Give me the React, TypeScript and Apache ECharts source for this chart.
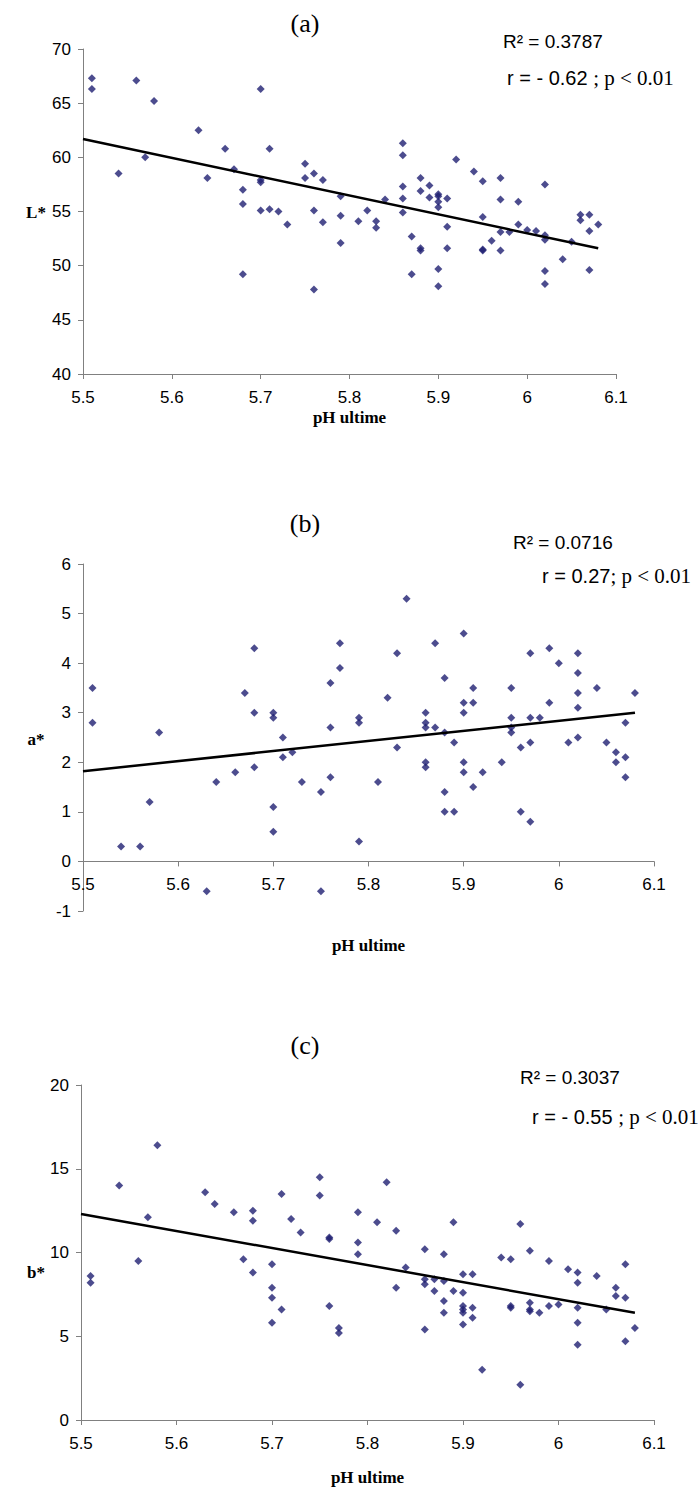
import React, { useEffect, useRef } from "react";
import * as echarts from "echarts";

// Panel (a): L* vs pH ultime
const phA = [5.51, 5.51, 5.54, 5.56, 5.57, 5.58, 5.63, 5.64, 5.66, 5.67, 5.68, 5.68, 5.68, 5.7, 5.7, 5.7, 5.7, 5.71, 5.71, 5.72, 5.73, 5.75, 5.75, 5.76, 5.76, 5.76, 5.77, 5.77, 5.79, 5.79, 5.79, 5.81, 5.82, 5.83, 5.83, 5.84, 5.86, 5.86, 5.86, 5.86, 5.86, 5.87, 5.87, 5.88, 5.88, 5.88, 5.88, 5.89, 5.89, 5.9, 5.9, 5.9, 5.9, 5.9, 5.9, 5.91, 5.91, 5.91, 5.92, 5.94, 5.95, 5.95, 5.95, 5.95, 5.96, 5.97, 5.97, 5.97, 5.97, 5.98, 5.99, 5.99, 6.0, 6.01, 6.02, 6.02, 6.02, 6.02, 6.02, 6.04, 6.05, 6.06, 6.06, 6.07, 6.07, 6.07, 6.08];
const lStar = [67.3, 66.3, 58.5, 67.1, 60.0, 65.2, 62.5, 58.1, 60.8, 58.9, 57.0, 55.7, 49.2, 66.3, 57.9, 57.7, 55.1, 60.8, 55.2, 55.0, 53.8, 59.4, 58.1, 58.5, 55.1, 47.8, 57.9, 54.0, 56.4, 54.6, 52.1, 54.1, 55.1, 54.1, 53.5, 56.1, 61.3, 60.2, 57.3, 56.2, 54.9, 52.7, 49.2, 58.1, 56.9, 51.6, 51.4, 57.4, 56.3, 56.6, 56.4, 55.9, 55.4, 49.7, 48.1, 56.2, 53.6, 51.6, 59.8, 58.7, 57.8, 54.5, 51.5, 51.4, 52.3, 58.1, 56.1, 53.1, 51.4, 53.1, 55.9, 53.8, 53.3, 53.2, 57.5, 52.8, 52.4, 49.5, 48.3, 50.6, 52.2, 54.7, 54.2, 54.7, 53.2, 49.6, 53.8];
const trendA = [[5.5, 61.7], [6.08, 51.6]];

// Panel (b): a* vs pH ultime
const phB = [5.51, 5.51, 5.54, 5.56, 5.57, 5.58, 5.63, 5.64, 5.66, 5.67, 5.68, 5.68, 5.68, 5.7, 5.7, 5.7, 5.7, 5.71, 5.71, 5.72, 5.73, 5.75, 5.75, 5.76, 5.76, 5.76, 5.77, 5.77, 5.79, 5.79, 5.79, 5.81, 5.82, 5.83, 5.83, 5.84, 5.86, 5.86, 5.86, 5.86, 5.86, 5.87, 5.87, 5.88, 5.88, 5.88, 5.88, 5.89, 5.89, 5.9, 5.9, 5.9, 5.9, 5.9, 5.91, 5.91, 5.91, 5.92, 5.94, 5.95, 5.95, 5.95, 5.95, 5.96, 5.96, 5.97, 5.97, 5.97, 5.97, 5.98, 5.99, 5.99, 6.0, 6.01, 6.02, 6.02, 6.02, 6.02, 6.02, 6.04, 6.05, 6.06, 6.06, 6.07, 6.07, 6.07, 6.08];
const aStar = [3.5, 2.8, 0.3, 0.3, 1.2, 2.6, -0.6, 1.6, 1.8, 3.4, 4.3, 3.0, 1.9, 3.0, 2.9, 1.1, 0.6, 2.5, 2.1, 2.2, 1.6, 1.4, -0.6, 3.6, 2.7, 1.7, 4.4, 3.9, 2.9, 2.8, 0.4, 1.6, 3.3, 4.2, 2.3, 5.3, 3.0, 2.8, 2.7, 2.0, 1.9, 4.4, 2.7, 3.7, 2.6, 1.4, 1.0, 2.4, 1.0, 4.6, 3.2, 3.0, 2.0, 1.8, 3.5, 3.2, 1.5, 1.8, 2.0, 3.5, 2.9, 2.7, 2.6, 2.3, 1.0, 4.2, 2.9, 2.4, 0.8, 2.9, 4.3, 3.2, 4.0, 2.4, 4.2, 3.8, 3.4, 3.1, 2.5, 3.5, 2.4, 2.2, 2.0, 2.8, 2.1, 1.7, 3.4];
const trendB = [[5.5, 1.82], [6.08, 3.0]];

// Panel (c): b* vs pH ultime
const phC = [5.51, 5.51, 5.54, 5.56, 5.57, 5.58, 5.63, 5.64, 5.66, 5.67, 5.68, 5.68, 5.68, 5.7, 5.7, 5.7, 5.7, 5.71, 5.71, 5.72, 5.73, 5.75, 5.75, 5.76, 5.76, 5.76, 5.77, 5.77, 5.79, 5.79, 5.79, 5.81, 5.82, 5.83, 5.83, 5.84, 5.86, 5.86, 5.86, 5.86, 5.87, 5.87, 5.88, 5.88, 5.88, 5.88, 5.89, 5.89, 5.9, 5.9, 5.9, 5.9, 5.9, 5.9, 5.91, 5.91, 5.91, 5.92, 5.94, 5.95, 5.95, 5.95, 5.96, 5.96, 5.97, 5.97, 5.97, 5.97, 5.98, 5.99, 5.99, 6.0, 6.01, 6.02, 6.02, 6.02, 6.02, 6.02, 6.04, 6.05, 6.06, 6.06, 6.07, 6.07, 6.07, 6.08];
const bStar = [8.6, 8.2, 14.0, 9.5, 12.1, 16.4, 13.6, 12.9, 12.4, 9.6, 12.5, 11.9, 8.8, 9.3, 7.9, 7.3, 5.8, 13.5, 6.6, 12.0, 11.2, 14.5, 13.4, 10.9, 10.8, 6.8, 5.5, 5.2, 12.4, 10.6, 9.9, 11.8, 14.2, 11.3, 7.9, 9.1, 10.2, 8.4, 8.1, 5.4, 8.4, 7.7, 9.9, 8.3, 7.1, 6.4, 11.8, 7.7, 8.7, 7.6, 6.8, 6.6, 6.4, 5.7, 8.7, 6.7, 6.1, 3.0, 9.7, 9.6, 6.8, 6.7, 11.7, 2.1, 10.1, 7.0, 6.6, 6.5, 6.4, 9.5, 6.8, 6.9, 9.0, 8.8, 8.2, 6.7, 5.8, 4.5, 8.6, 6.6, 7.9, 7.4, 9.3, 7.3, 4.7, 5.5];
const trendC = [[5.5, 12.3], [6.08, 6.4]];

const yNames = ["L*", "a*", "b*"];
const xName = "pH ultime";
const panelTitles = ["(a)", "(b)", "(c)"];
const r2Texts = ["R² = 0.3787", "R² = 0.0716", "R² = 0.3037"];
const rTexts = ["r = - 0.62 ", "r = 0.27", "r = - 0.55 "];
const pText = "; p < 0.01";

const SANS = "'Liberation Sans', Arial, sans-serif";
const SERIF = "'Liberation Serif', 'Times New Roman', serif";
const NAVY = "#1f1f72";
const AXIS = "#808080";

export default function App() {
  const ref = useRef<HTMLDivElement>(null);

  useEffect(() => {
    if (!ref.current) return;
    const chart = echarts.init(ref.current, undefined, { renderer: "svg" });

    const grids = [
      { left: 83, top: 49, width: 533, height: 325 },
      { left: 83, top: 564, width: 571, height: 347 },
      { left: 81, top: 1085, width: 573, height: 335 },
    ];
    const yRanges = [
      { min: 40, max: 70, interval: 5 },
      { min: -1, max: 6, interval: 1 },
      { min: 0, max: 20, interval: 5 },
    ];
    const xNameGaps = [35, 76, 49];

    // x axis sits at y = 0 when the y range includes 0 (panel b)
    const zeroOffset = (i: number) => {
      const r = yRanges[i];
      if (r.min >= 0) return 0;
      return -(grids[i].height * (0 - r.min)) / (r.max - r.min);
    };

    const xAxes = grids.map((_, i) => ({
      type: "value",
      gridIndex: i,
      min: 5.5,
      max: 6.1,
      interval: 0.1,
      offset: zeroOffset(i),
      axisLine: { show: true, onZero: false, lineStyle: { color: AXIS, width: 1 } },
      axisTick: { show: true, length: 5, lineStyle: { color: AXIS } },
      axisLabel: { color: "#000", fontFamily: SANS, fontSize: 17, margin: 15 },
      splitLine: { show: false },
      name: xName,
      nameLocation: "middle",
      nameGap: xNameGaps[i],
      nameTextStyle: { fontFamily: SERIF, fontWeight: "bold", fontSize: 17, color: "#000" },
    }));

    const yAxes = grids.map((_, i) => ({
      type: "value",
      gridIndex: i,
      ...yRanges[i],
      axisLine: { show: true, onZero: false, lineStyle: { color: AXIS, width: 1 } },
      axisTick: { show: true, length: 5, lineStyle: { color: AXIS } },
      axisLabel: { color: "#000", fontFamily: SANS, fontSize: 17, margin: 12 },
      splitLine: { show: false },
    }));

    const pairs = (xs: number[], ys: number[]) => xs.map((x, k) => [x, ys[k]]);
    const scatterData = [pairs(phA, lStar), pairs(phB, aStar), pairs(phC, bStar)];
    const trends = [trendA, trendB, trendC];

    const series: any[] = [];
    scatterData.forEach((d, i) => {
      series.push({
        type: "scatter",
        xAxisIndex: i,
        yAxisIndex: i,
        data: d,
        symbol: "diamond",
        symbolSize: 8,
        itemStyle: { color: NAVY },
        z: 2,
      });
      series.push({
        type: "line",
        xAxisIndex: i,
        yAxisIndex: i,
        data: trends[i],
        showSymbol: false,
        symbol: "none",
        lineStyle: { color: "#000", width: 2.5 },
        z: 3,
      });
    });

    const titleY = [23, 523, 1045];
    const yNameY = [212, 739, 1272];
    const r2Pos = [
      [503, 41],
      [513, 542],
      [520, 1077],
    ];
    const rPos = [
      [507, 78],
      [542, 576],
      [532, 1117],
    ];

    const graphic: any[] = [];
    for (let i = 0; i < 3; i++) {
      graphic.push({
        type: "text",
        x: 305,
        y: titleY[i],
        style: {
          text: panelTitles[i],
          font: `26px ${SERIF}`,
          fill: "#000",
          align: "center",
          verticalAlign: "middle",
        },
      });
      graphic.push({
        type: "text",
        x: 36,
        y: yNameY[i],
        style: {
          text: yNames[i],
          font: `bold 17px ${SERIF}`,
          fill: "#000",
          align: "center",
          verticalAlign: "middle",
        },
      });
      graphic.push({
        type: "text",
        x: r2Pos[i][0],
        y: r2Pos[i][1],
        style: {
          text: r2Texts[i],
          font: `19px ${SANS}`,
          fill: "#000",
          align: "left",
          verticalAlign: "middle",
        },
      });
      graphic.push({
        type: "text",
        x: rPos[i][0],
        y: rPos[i][1],
        style: {
          text: `{s|${rTexts[i]}}{t|${pText}}`,
          align: "left",
          verticalAlign: "middle",
          rich: {
            s: { fontFamily: SANS, fontSize: 20, fill: "#000", color: "#000" },
            t: { fontFamily: SERIF, fontSize: 21, fill: "#000", color: "#000" },
          },
        },
      });
    }

    chart.setOption({
      animation: false,
      backgroundColor: "#fff",
      grid: grids.map((g) => ({ ...g, containLabel: false })),
      xAxis: xAxes,
      yAxis: yAxes,
      series,
      graphic,
    });

    return () => chart.dispose();
  }, []);

  return (
    <div
      ref={ref}
      style={{ position: "absolute", left: 0, top: 0, width: 698, height: 1490, background: "#fff" }}
    />
  );
}
